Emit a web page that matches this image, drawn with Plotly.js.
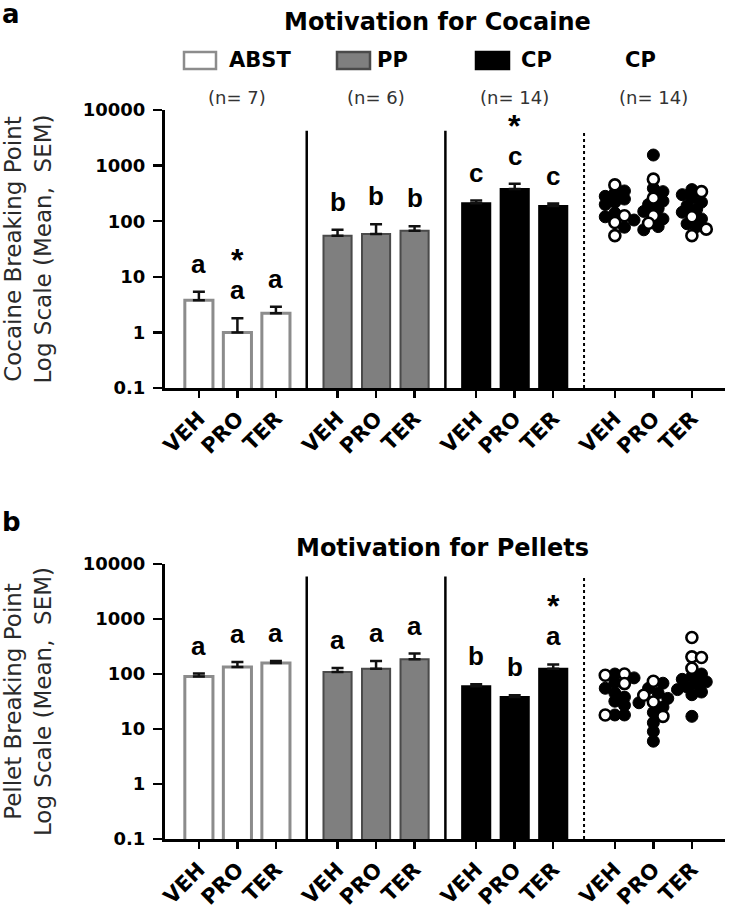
<!DOCTYPE html>
<html><head><meta charset="utf-8">
<script src="https://cdn.plot.ly/plotly-3.0.1.min.js"></script>
<style>html,body{margin:0;padding:0;background:#fff}</style>
</head><body><div id="chart" style="width:729px;height:919px"></div>
<script>
// ---------- DATA ----------
const drugs = ['VEH','PRO','TER'];
const groups = ['ABST','PP','CP'];
const scatterGroup = 'CP';
const groupN = ['(n= 7)','(n= 6)','(n= 14)','(n= 14)'];

// Panel a: cocaine breaking point (mean, SEM)
const cocMeanABST = [3.8, 1.0, 2.2];
const cocSemABST  = [1.6, 0.8, 0.7];
const cocMeanPP   = [55, 59, 67];
const cocSemPP    = [15, 29, 14];
const cocMeanCP   = [210, 380, 188];
const cocSemCP    = [25, 90, 20];
const cocLetters  = [['a','a','a'],['b','b','b'],['c','c','c']];
const cocStars    = [[0,1,0],[0,0,0],[0,1,0]];

// Panel a: individual CP rats (open / filled symbols)
const cocVehOpen   = [450, 125, 95, 55];
const cocVehFilled = [350, 320, 280, 250, 220, 200, 140, 120, 105, 78];
const cocProOpen   = [570, 260, 125, 92];
const cocProFilled = [1550, 390, 340, 230, 200, 170, 150, 110, 80, 70];
const cocTerOpen   = [340, 120, 72, 55];
const cocTerFilled = [370, 300, 260, 220, 190, 165, 145, 110, 90, 80];

// Panel b: pellet breaking point (mean, SEM)
const pelMeanABST = [90, 134, 158];
const pelSemABST  = [12, 32, 15];
const pelMeanPP   = [109, 125, 185];
const pelSemPP    = [20, 48, 50];
const pelMeanCP   = [60, 38, 125];
const pelSemCP    = [5, 3, 24];
const pelLetters  = [['a','a','a'],['a','a','a'],['b','b','a']];
const pelStars    = [[0,0,0],[0,0,0],[0,0,1]];

// Panel b: individual CP rats
const pelVehOpen   = [100, 95, 67, 18];
const pelVehFilled = [100, 85, 70, 55, 45, 38, 32, 27, 18, 18];
const pelProOpen   = [74, 41, 31, 17];
const pelProFilled = [68, 55, 45, 36, 30, 25, 20, 13, 9, 6];
const pelTerOpen   = [460, 205, 200, 127];
const pelTerFilled = [100, 90, 80, 72, 65, 58, 52, 47, 42, 17];

const yTickVals = [0.1, 1, 10, 100, 1000, 10000];
const yTickText = ['0.1', '1', '10', '100', '1000', '10000'];

// ---------- LAYOUT CONSTANTS ----------
const W = 729, H = 919;
const xL = 165, xR = 725;
const aTop = 110, aBot = 388, bTop = 564, bBot = 839;
const groupStep = 3.6, barW = 0.73;
const xRange = [-0.88, 13.66];
const yRange = [Math.log10(yTickVals[0]), Math.log10(yTickVals[yTickVals.length - 1])];
const FONT = 'DejaVu Sans, Verdana, sans-serif';
const LFONT = 'Liberation Sans, Arial, sans-serif';
const px = x => x / W, py = y => 1 - y / H;
const xpos = (g, i) => g * groupStep + i;
const ppu = (xR - xL) / (xRange[1] - xRange[0]);

// minor ticks at 2..9 within each decade
const minorVals = [];
yTickVals.slice(0, -1).forEach(d => { for (let k = 2; k <= 9; k++) minorVals.push(d * k); });

const barStyles = [
  {fill: '#ffffff', line: '#8c8c8c', lw: 3},
  {fill: '#7f7f7f', line: '#4a4a4a', lw: 2},
  {fill: '#000000', line: '#000000', lw: 2}
];

function swarm(vals, pxPerDecade, pxPerUnit, d) {
  const order = vals.map((v, i) => i).sort((a, b) => vals[b] - vals[a]);
  const placed = [], off = new Array(vals.length).fill(0);
  order.forEach(i => {
    const yp = Math.log10(vals[i]) * pxPerDecade;
    const cands = [0];
    for (let k = 1; k < 30; k++) cands.push(k * d * 0.4, -k * d * 0.4);
    for (const c of cands) {
      if (placed.every(p => Math.hypot(p.x - c, p.y - yp) >= d * 0.66)) {
        off[i] = c; placed.push({x: c, y: yp}); break;
      }
    }
  });
  return off.map(o => o / pxPerUnit);
}

function panel(means, sems, letters, stars, opens, filleds, xa, ya, top, bot) {
  const traces = [], ann = [];
  means.forEach((m, g) => {
    const st = barStyles[g];
    traces.push({
      type: 'bar', x: drugs.map((d, i) => xpos(g, i)), y: m, width: barW,
      xaxis: xa, yaxis: ya, name: groups[g], showlegend: false,
      marker: {color: st.fill, line: {color: st.line, width: st.lw}},
      error_y: {type: 'data', symmetric: false, array: sems[g], arrayminus: m.map(() => 0),
                color: '#111', thickness: 2.5, width: 6}
    });
    m.forEach((v, i) => {
      const top_ = Math.log10(v + sems[g][i]);
      ann.push({xref: xa, yref: ya, x: xpos(g, i), y: top_, yshift: 28, yanchor: 'middle',
        text: letters[g][i], showarrow: false, font: {family: LFONT, size: 26, weight: 700, color: '#000'}});
      if (stars[g][i]) ann.push({xref: xa, yref: ya, x: xpos(g, i), y: top_, yshift: 58, yanchor: 'middle',
        text: '*', showarrow: false, font: {family: LFONT, size: 32, weight: 700, color: '#000'}});
    });
  });
  const ppd = (bot - top) / 5;
  const fx = [], fy = [], ox = [], oy = [];
  drugs.forEach((d, i) => {
    const all = filleds[i].concat(opens[i]);
    const offs = swarm(all, ppd, ppu, 12);
    all.forEach((v, k) => {
      const x = xpos(3, i) + offs[k];
      if (k < filleds[i].length) { fx.push(x); fy.push(v); } else { ox.push(x); oy.push(v); }
    });
  });
  traces.push({type: 'scatter', mode: 'markers', x: fx, y: fy, xaxis: xa, yaxis: ya, showlegend: false,
    name: scatterGroup, marker: {size: 12, color: '#000', line: {color: '#000', width: 1}}});
  traces.push({type: 'scatter', mode: 'markers', x: ox, y: oy, xaxis: xa, yaxis: ya, showlegend: false,
    name: scatterGroup, marker: {size: 11, color: '#fff', line: {color: '#000', width: 2.6}}});
  // minor log ticks: short horizontal line markers just outside the y axis line
  traces.push({type: 'scatter', mode: 'markers', cliponaxis: false, hoverinfo: 'skip', showlegend: false,
    x: minorVals.map(() => xRange[0] - 4.6 / ppu), y: minorVals, xaxis: xa, yaxis: ya,
    marker: {symbol: 'line-ew', size: 6, color: '#000', line: {color: '#000', width: 2}}});
  return {traces, ann};
}

const A = panel([cocMeanABST, cocMeanPP, cocMeanCP], [cocSemABST, cocSemPP, cocSemCP], cocLetters, cocStars,
  [cocVehOpen, cocProOpen, cocTerOpen], [cocVehFilled, cocProFilled, cocTerFilled], 'x', 'y', aTop, aBot);
const B = panel([pelMeanABST, pelMeanPP, pelMeanCP], [pelSemABST, pelSemPP, pelSemCP], pelLetters, pelStars,
  [pelVehOpen, pelProOpen, pelTerOpen], [pelVehFilled, pelProFilled, pelTerFilled], 'x2', 'y2', bTop, bBot);

const tickVals = [], tickText = [];
for (let g = 0; g < 4; g++) drugs.forEach((d, i) => { tickVals.push(xpos(g, i)); tickText.push(d); });

function xaxisDef(anchor) {
  return {domain: [px(xL), px(xR)], range: xRange, anchor, tickmode: 'array', tickvals: tickVals,
    ticktext: tickText, tickangle: -45, ticks: 'outside', ticklen: 7, tickwidth: 2.5, tickcolor: '#000',
    showline: true, linewidth: 3, linecolor: '#000', showgrid: false, zeroline: false,
    tickfont: {family: FONT, size: 21, weight: 700, color: '#000'}};
}
function yaxisDef(anchor, top, bot, title) {
  return {domain: [py(bot), py(top)], type: 'log', range: yRange, anchor,
    tickmode: 'array', tickvals: yTickVals, ticktext: yTickText,
    ticks: 'outside', ticklen: 9, tickwidth: 2.5, tickcolor: '#000', ticklabelstandoff: 4,
    showline: true, linewidth: 3, linecolor: '#000', showgrid: false, zeroline: false,
    tickfont: {family: FONT, size: 18, weight: 700, color: '#000'},
    title: {text: title, standoff: 30, font: {family: FONT, size: 23, color: '#2a2a2a'}}};
}

const shapes = [];
[['x', 'y', 0.925], ['x2', 'y2', 0.955]].forEach(([xa, ya, yt]) => {
  for (let g = 0; g < 3; g++) {
    const xm = (xpos(g, 2) + xpos(g + 1, 0)) / 2;
    shapes.push({type: 'line', xref: xa, yref: ya + ' domain', x0: xm, x1: xm, y0: 0, y1: yt,
      line: {color: '#000', width: g < 2 ? 2.5 : 2, dash: g < 2 ? 'solid' : 'dot'}});
  }
});
// legend boxes
const legBoxes = [[184, 216], [337, 370], [476, 509]];
legBoxes.forEach((b, g) => {
  shapes.push({type: 'rect', xref: 'paper', yref: 'paper', x0: px(b[0]), x1: px(b[1]), y0: py(69), y1: py(52),
    fillcolor: barStyles[g].fill, line: {color: barStyles[g].line, width: 2.5}});
});

const annotations = A.ann.concat(B.ann);
const txt = (x, y, text, size, weight, xanchor, color) => annotations.push({xref: 'paper', yref: 'paper',
  x: px(x), y: py(y), text, showarrow: false, xanchor: xanchor || 'center', yanchor: 'middle',
  font: {family: FONT, size, weight: weight || 400, color: color || '#000'}});
txt(11, 14, 'a', 26, 700);
txt(11, 522, 'b', 26, 700);
txt(437, 22, 'Motivation for Cocaine', 24, 700);
txt(442, 548, 'Motivation for Pellets', 24, 700);
txt(227, 60, groups[0], 21, 700, 'left');
txt(375, 60, groups[1], 21, 700, 'left');
txt(519, 60, groups[2], 21, 700, 'left');
txt(640, 60, scatterGroup, 21, 700);
[xpos(0, 1), xpos(1, 1), xpos(2, 1), xpos(3, 1)].forEach((xv, i) => annotations.push({xref: 'x', yref: 'paper',
  x: xv, y: py(97), text: groupN[i], showarrow: false, xanchor: 'center', yanchor: 'middle',
  font: {family: FONT, size: 18, color: '#333'}}));

const layout = {
  width: W, height: H, margin: {l: 0, r: 0, t: 0, b: 0}, paper_bgcolor: '#fff', plot_bgcolor: 'rgba(0,0,0,0)',
  barmode: 'overlay', showlegend: false,
  xaxis: xaxisDef('y'), yaxis: yaxisDef('x', aTop, aBot, 'Cocaine Breaking Point<br>Log Scale (Mean, \u00a0SEM)'),
  xaxis2: xaxisDef('y2'), yaxis2: yaxisDef('x2', bTop, bBot, 'Pellet Breaking Point<br>Log Scale (Mean, \u00a0SEM)'),
  shapes, annotations
};
Plotly.newPlot('chart', A.traces.concat(B.traces), layout, {staticPlot: true});
</script></body></html>
